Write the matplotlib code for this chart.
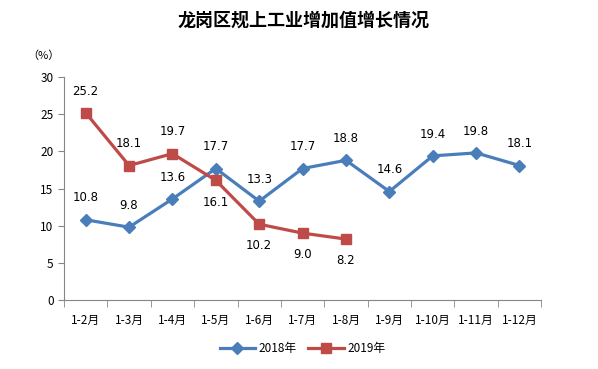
import numpy as np
import matplotlib
matplotlib.use('Agg')
import matplotlib.pyplot as plt

plt.rcParams['font.family'] = ['Noto Sans CJK SC', 'DejaVu Sans']

months = ['1-2月', '1-3月', '1-4月', '1-5月', '1-6月', '1-7月', '1-8月',
          '1-9月', '1-10月', '1-11月', '1-12月']
v2018 = [10.8, 9.8, 13.6, 17.7, 13.3, 17.7, 18.8, 14.6, 19.4, 19.8, 18.1]
v2019 = [25.2, 18.1, 19.7, 16.1, 10.2, 9.0, 8.2]
# label above (1) or below (-1) the 2019 points
pos2019 = [1, 1, 1, -1, -1, -1, -1]

blue = '#4a7ebb'
red = '#be4b48'

fig = plt.figure(figsize=(5.98, 3.69), dpi=100)
ax = fig.add_axes([0.107, 0.187, 0.798, 0.604])

x = np.arange(len(months))
ax.plot(x, v2018, color=blue, lw=2.3, marker='D', ms=6.5, label='2018年')
ax.plot(x[:len(v2019)], v2019, color=red, lw=2.3, marker='s', ms=7.5, label='2019年')

for xi, v in zip(x, v2018):
    ax.annotate(f'{v:.1f}', (xi, v), xytext=(0, 11), textcoords='offset points',
                ha='center', va='bottom', fontsize=8.5, family='DejaVu Sans')
for xi, v, p in zip(x, v2019, pos2019):
    ax.annotate(f'{v:.1f}', (xi, v), xytext=(0, 11 * p), textcoords='offset points',
                ha='center', va='bottom' if p > 0 else 'top', fontsize=8.5,
                family='DejaVu Sans')

ax.set_xlim(-0.5, len(months) - 0.5)
ax.set_ylim(0, 30)
ax.set_yticks(range(0, 31, 5))
ax.set_xticks(x)
ax.set_xticklabels(months, fontsize=8.5)
ax.set_xticks(np.arange(-0.5, len(months), 1), minor=True)
ax.tick_params(axis='x', which='major', length=0, pad=10)
ax.tick_params(axis='x', which='minor', length=5, color='#868686')
ax.tick_params(axis='y', length=4, color='#868686', labelsize=8.5)
for s in ['top', 'right']:
    ax.spines[s].set_visible(False)
for s in ['left', 'bottom']:
    ax.spines[s].set_color('#868686')

fig.text(0.507, 0.945, '龙岗区规上工业增加值增长情况', ha='center', va='center',
         fontsize=13, fontweight='bold')
fig.text(0.045, 0.85, '（%）', ha='left', va='center', fontsize=8)

ax.legend(loc='upper center', bbox_to_anchor=(0.5, -0.14), ncol=2, frameon=False,
          fontsize=8.5, handlelength=3, columnspacing=1.0, handletextpad=0.3)

fig.savefig('out.png', dpi=100)
